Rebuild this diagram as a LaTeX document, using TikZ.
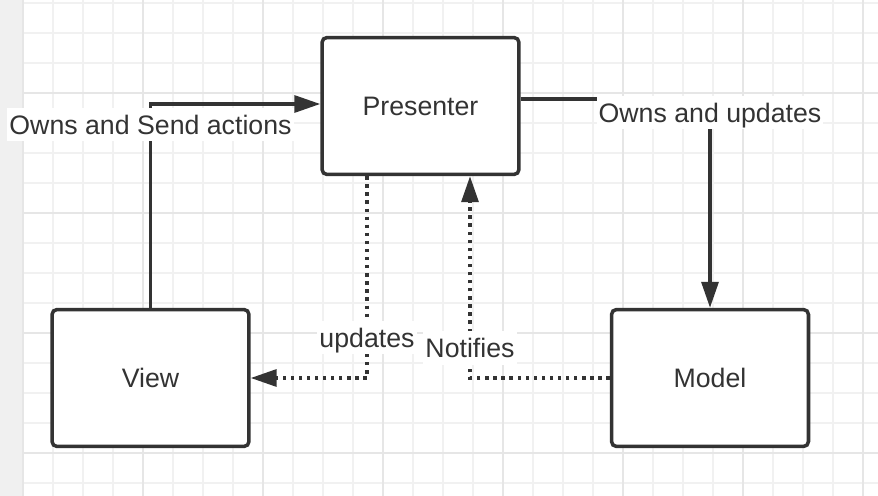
\documentclass[tikz,border=0pt]{standalone}
\usepackage{fontspec}
\setmainfont{Liberation Sans}
\usepackage{tikz}
\usepackage{xcolor}
\usetikzlibrary{arrows.meta, positioning}

\definecolor{ink}{HTML}{333333}
\definecolor{gridminor}{HTML}{F1F1F1}
\definecolor{gridmajor}{HTML}{E6E6E6}
\definecolor{stripgray}{HTML}{F0F0F0}

\begin{document}
\begin{tikzpicture}[
    x=0.02cm, y=-0.02cm,
    font=\fontsize{15.2}{18}\selectfont,
    box/.style={rectangle, rounded corners=0.1cm, draw=ink, line width=2pt, fill=white,
        minimum width=3.94cm, minimum height=2.74cm, text=ink, align=center},
    link/.style={draw=ink, line width=1.9pt, -{Triangle[length=0.52cm, width=0.34cm]}},
    dotlink/.style={link, dash pattern=on 1.9pt off 2.7pt},
    tag/.style={fill=white, text=ink, inner xsep=0.04cm, inner ysep=0.1cm,
        text height=12.3pt, text depth=1.1pt}
]
    \useasboundingbox (0,0) rectangle (878,496);
    \fill[white] (0,0) rectangle (878,496);

    % Grid
    \fill[stripgray] (0,0) rectangle (22,496);
    \foreach \gx in {23,53,...,863}
        \draw[gridminor, line width=0.6pt] (\gx,0) -- (\gx,496);
    \foreach \gy in {3,33,...,483}
        \draw[gridminor, line width=0.6pt] (22,\gy) -- (878,\gy);
    \foreach \gx in {23,143,...,863}
        \draw[gridmajor, line width=0.9pt] (\gx,0) -- (\gx,496);
    \foreach \gy in {93,213,333,453}
        \draw[gridmajor, line width=0.9pt] (22,\gy) -- (878,\gy);

    % Presenter
    \node[box] (presenter) at (420.5,106) {Presenter};

    % View and Model
    \node[box] (view) at (150.5,378) {View};
    \node[box] (model) at (710,378) {Model};

    % Connections
    \draw[link] (view.north) |- ([yshift=0.04cm]presenter.west)
        node[tag, pos=0.45] {Owns and Send actions};
    \draw[link] ([yshift=0.14cm]presenter.east) -| (model.north)
        node[tag, pos=0.532] {Owns and updates};
    \draw[dotlink] ([xshift=-1.07cm]presenter.south) |- (view.east)
        node[tag, pos=0.4] {updates};
    \draw[dotlink] (model.west) -| ([xshift=0.99cm]presenter.south)
        node[tag, pos=0.575] {Notifies};
\end{tikzpicture}
\end{document}
